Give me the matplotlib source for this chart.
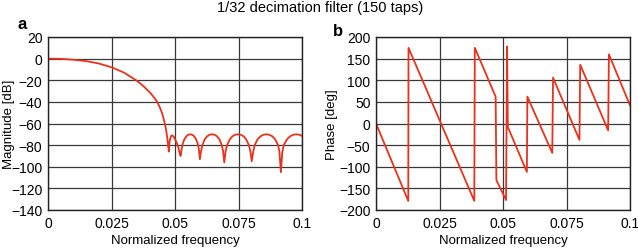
import numpy as np
import matplotlib.pyplot as plt

plt.rcParams['font.family'] = ['Liberation Sans', 'DejaVu Sans']

# magnitude response (normalized freq, dB)
mag_f = [0, 0.005, 0.01, 0.015, 0.02, 0.025, 0.03, 0.035, 0.0375, 0.04, 0.0415, 0.043, 0.044, 0.045,
         0.0455, 0.046, 0.0465, 0.047, 0.0473, 0.0476,
         0.0478, 0.0481, 0.0485, 0.0489, 0.0494, 0.0500, 0.0507, 0.0513, 0.0518, 0.0522,
         0.0526, 0.053, 0.0537, 0.0545, 0.0552, 0.056, 0.0568, 0.0575, 0.0583, 0.059, 0.0594, 0.0598,
         0.0603, 0.0608, 0.0617, 0.0627, 0.0636, 0.0646, 0.0656, 0.0665, 0.0675, 0.0684, 0.0689, 0.0694,
         0.0699, 0.0705, 0.0716, 0.0726, 0.0737, 0.0748, 0.0759, 0.077, 0.078, 0.0791, 0.0797, 0.0802,
         0.0808, 0.0814, 0.0825, 0.0837, 0.0848, 0.086, 0.0871, 0.0883, 0.0894, 0.0906, 0.0911, 0.0917,
         0.0922, 0.0928, 0.0941, 0.0953, 0.0966, 0.0978, 0.099, 0.1]
mag_db = [0, -0.2, -1, -2.3, -4.5, -8, -13, -20.5, -25.3, -31, -35.2, -40, -45, -51,
          -55.5, -60, -66, -74, -80, -86,
          -78, -74, -71.5, -71, -72, -74.5, -78, -82, -87, -90,
          -84, -79, -74.5, -71.8, -70.4, -70, -70.4, -71.8, -74.5, -79, -84, -93,
          -85, -80, -74.6, -71.8, -70.4, -70, -70.4, -71.8, -74.6, -80, -85, -96,
          -86, -80, -74.6, -71.8, -70.4, -70, -70.4, -71.8, -74.6, -80, -86, -95,
          -86, -80, -74.6, -71.8, -70.4, -70, -70.4, -71.8, -74.6, -80, -86, -105,
          -87, -80, -74.6, -71.8, -70.4, -70, -70.4, -71.5]

# phase response (deg)
ph_f = [0, 0.0127, 0.0128, 0.0387, 0.0389, 0.0471, 0.0474, 0.0512, 0.0516, 0.0519,
        0.0594, 0.0596, 0.0694, 0.0697, 0.0801, 0.0804, 0.0914, 0.0917, 0.1]
ph_deg = [0, -179, 175, -179, 175, 62, -131, -177, 178, -8,
          -112, 62, -68, 106, -38, 136, -16, 160, 42]

xticks = [0, 0.025, 0.05, 0.075, 0.1]
xlabels = ['0', '0.025', '0.05', '0.075', '0.1']

fig = plt.figure(figsize=(6.38, 2.51), dpi=100)
ax1 = fig.add_axes([48/638, 1-211/251, 254/638, 173/251])
ax2 = fig.add_axes([376/638, 1-211/251, 254/638, 173/251])

red = '#e8321e'
ax1.plot(mag_f, mag_db, color=red, lw=1.3)
ax1.set_ylim(-140, 20)
ax1.set_yticks(np.arange(-140, 21, 20))
ax1.set_ylabel('Magnitude [dB]', fontsize=9.5)
ax1.yaxis.set_label_coords(-0.13, 0.5)

ax2.plot(ph_f, ph_deg, color=red, lw=1.3)
ax2.set_ylim(-200, 200)
ax2.set_yticks(np.arange(-200, 201, 50))
ax2.set_ylabel('Phase [deg]', fontsize=9.5)
ax2.yaxis.set_label_coords(-0.15, 0.5)

for ax in (ax1, ax2):
    ax.set_xlim(0, 0.1)
    ax.set_xticks(xticks)
    ax.set_xticklabels(xlabels)
    ax.set_xlabel('Normalized frequency', fontsize=9.5, labelpad=3)
    ax.grid(True, color='#383838', lw=0.9)
    ax.set_axisbelow(True)
    ax.tick_params(length=0, labelsize=10, pad=4)
    for s in ax.spines.values():
        s.set_color('#222222')
        s.set_linewidth(1.0)

fig.text(0.502, 1-8/251, '1/32 decimation filter (150 taps)', ha='center', va='center', fontsize=10.5)
fig.text(22/638, 1-29/251, 'a', ha='center', va='baseline', fontsize=12, fontweight='bold')
fig.text(338/638, 1-36/251, 'b', ha='center', va='baseline', fontsize=12, fontweight='bold')

fig.savefig('out.png', dpi=100)
